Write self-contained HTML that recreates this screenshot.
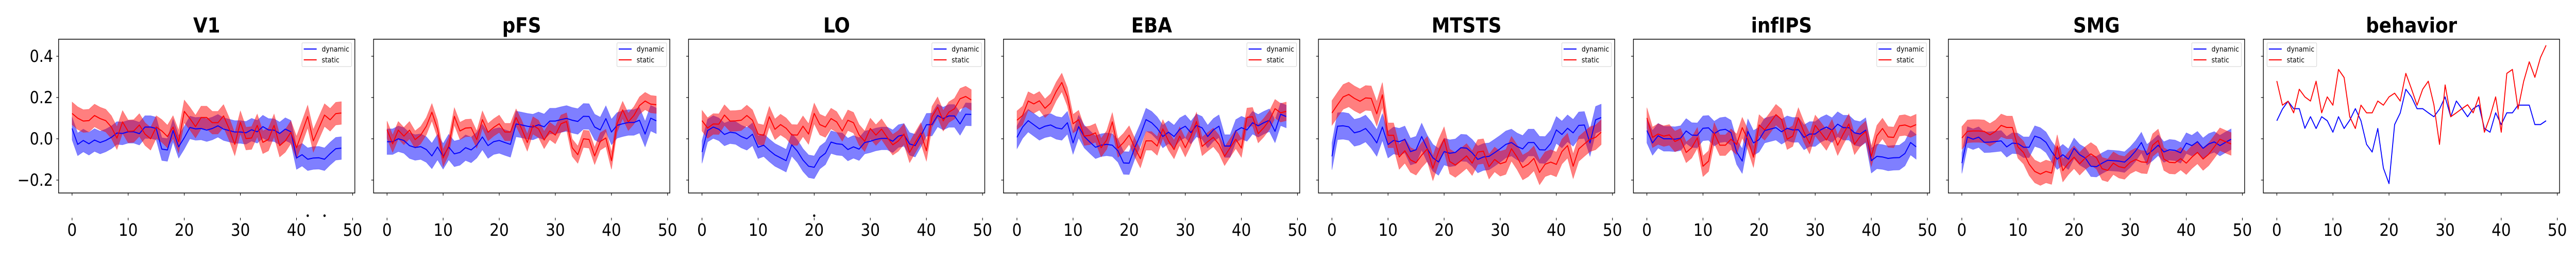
<!DOCTYPE html>
<html><head><meta charset="utf-8">
<style>
html,body{margin:0;padding:0;background:#fff;width:100%;height:100%;overflow:hidden;}
svg{display:block;width:100vw;height:100vh;font-family:"DejaVu Sans","Liberation Sans",sans-serif;}
</style></head>
<body>
<svg id="chart" viewBox="0 0 5600 500" preserveAspectRatio="none" xmlns="http://www.w3.org/2000/svg"></svg>
<script>
const panelTitles = ["V1","pFS","LO","EBA","MTSTS","infIPS","SMG","behavior"];
const yTickValues = [-0.2, 0.0, 0.2, 0.4];
const yTickLabels = ["\u22120.2","0.0","0.2","0.4"];
const xTickValues = [0,10,20,30,40,50];
const xTickLabels = ["0","10","20","30","40","50"];

const v1Dynamic = [0.05,-0.027,-0.008,-0.024,-0.006,-0.018,-0.008,0.007,0.028,0.026,0.034,0.034,0.025,0.057,0.057,0.05,-0.05,-0.054,0.04,-0.039,0.005,0.055,0.048,0.05,0.042,0.05,0.063,0.047,0.04,0.033,0.033,0.029,0.044,0.034,0.059,0.043,0.042,0.026,0.047,0.034,-0.093,-0.077,-0.099,-0.093,-0.092,-0.099,-0.072,-0.048,-0.045];
const v1Static = [0.123,0.1,0.086,0.088,0.113,0.098,0.088,0.057,0.003,0.082,0.036,0.038,0.067,0.023,0,0.057,0.038,0.011,0.057,-0.014,0.133,0.098,0.059,0.103,0.103,0.078,0.078,0.111,0.048,-0.027,0.08,0.001,0.004,0.065,-0.017,-0.003,0.065,-0.033,-0.01,0.032,-0.043,0.032,0.108,-0.01,0.053,0.115,0.092,0.122,0.125];
const pfsDynamic = [-0.014,-0.014,0,-0.008,-0.033,-0.042,-0.038,-0.052,-0.083,-0.04,-0.085,-0.04,-0.073,-0.066,-0.043,-0.054,-0.031,0.009,-0.033,-0.014,-0.008,-0.018,-0.027,0.072,0.067,0.061,0.057,0.068,0.058,0.086,0.086,0.093,0.099,0.09,0.084,0.109,0.108,0.057,0.043,0.098,0.033,0.065,0.073,0.079,0.079,0.09,0.023,0.1,0.087];
const pfsStatic = [0.044,-0.024,0.042,0.013,0.042,-0.004,0.018,0.061,0.129,0.048,-0.093,-0.035,0.109,0.038,0.052,0.054,-0.004,0.093,0.032,0.055,0.073,0.033,0.033,0.103,0.048,-0.018,0.065,0.048,-0.006,0.038,0.018,0.073,0.084,-0.043,-0.077,0,-0.003,-0.083,-0.013,0.004,-0.106,0.073,0.14,0.082,0.113,0.161,0.183,0.168,0.165];
const loDynamic = [-0.064,0.04,0.057,0.046,0.021,0.032,0.028,0.011,0,0.022,-0.041,-0.031,-0.056,-0.078,-0.092,-0.106,-0.029,-0.06,-0.103,-0.133,-0.138,-0.091,-0.07,-0.016,-0.024,-0.027,-0.052,-0.039,-0.05,-0.018,-0.012,-0.003,0.002,0.002,-0.012,0.013,0.019,-0.025,-0.033,0.015,0.068,0.069,0.113,0.098,0.111,0.111,0.072,0.119,0.118];
const loStatic = [0.088,0.052,0.072,0.071,0.115,0.086,0.087,0.09,0.113,0.09,0.023,0.017,0.107,0.046,0.069,0.051,0.019,0.018,0.061,0.023,0.123,0.069,0.057,0.098,0.082,0.038,0.09,0.078,0.019,-0.012,0.05,0.018,0.047,0.007,-0.029,-0.01,0.023,-0.066,-0.018,0.028,-0.058,0.107,0.153,0.087,0.129,0.146,0.194,0.205,0.188];
const ebaDynamic = [0.007,0.057,0.088,0.068,0.048,0.061,0.067,0.053,0.048,0.078,-0.02,0.059,0.011,-0.016,-0.041,-0.031,-0.027,-0.031,-0.058,-0.117,-0.118,-0.043,0.019,0.093,0.078,0.051,0.011,0.032,0.011,0.046,0.061,0.03,0.065,0.053,0.011,0.043,0.061,-0.035,-0.035,0.038,0.054,0.043,0.078,0.063,0.078,0.09,0.036,0.119,0.108];
const ebaStatic = [0.09,0.113,0.183,0.169,0.184,0.148,0.173,0.23,0.273,0.203,0.073,0.093,0.013,0.017,0.029,-0.043,-0.006,0.082,-0.045,-0.018,0.018,-0.043,-0.096,-0.01,-0.01,-0.035,0.048,-0.01,-0.052,0.013,-0.043,0.013,0.084,-0.037,-0.014,0.007,-0.027,-0.085,-0.043,-0.002,-0.045,0.104,0.107,0.025,0.054,0.09,0.146,0.126,0.133];
const mtstsDynamic = [-0.085,0.061,0.063,0.058,0.029,0.036,0.05,0.019,-0.02,0.057,-0.028,-0.008,-0.014,-0.003,-0.062,-0.053,0.011,-0.048,-0.092,-0.112,-0.062,-0.07,-0.066,-0.043,-0.045,-0.068,-0.1,-0.088,-0.085,-0.067,-0.048,-0.027,-0.018,-0.037,-0.049,-0.018,-0.018,-0.053,-0.054,-0.023,0.043,0.021,0.051,0.029,0.065,0.067,-0.02,0.092,0.103];
const mtstsStatic = [0.125,0.165,0.203,0.215,0.196,0.182,0.198,0.196,0.121,0.213,0.017,0.017,-0.088,-0.058,-0.102,-0.116,-0.079,-0.049,-0.143,-0.063,-0.002,-0.11,-0.127,-0.106,-0.083,-0.118,-0.064,-0.06,-0.135,-0.1,-0.121,-0.112,-0.048,-0.089,-0.139,-0.123,-0.095,-0.163,-0.123,-0.113,-0.124,-0.062,-0.033,-0.133,-0.049,-0.025,-0.002,0.007,0.032];
const infipsDynamic = [0.04,-0.02,0.015,0,0,-0.002,0.003,0.038,0.018,0.017,0.051,0.053,0.025,0.042,0.046,0.03,-0.064,-0.108,0.036,-0.02,-0.004,0.04,0.047,0.054,0.034,0.051,0.043,0.044,0.007,0.023,0.023,0.044,0.057,0.042,0.071,0.054,0.054,0.029,0.023,0.042,-0.106,-0.085,-0.088,-0.095,-0.092,-0.091,-0.071,-0.018,-0.039];
const infipsStatic = [0.101,0.007,0.023,0.013,0.019,-0.013,0,-0.066,-0.043,0.005,-0.133,-0.108,0.028,-0.031,-0.031,-0.002,-0.027,0.054,-0.004,-0.089,0.067,0.043,0.079,0.117,0.094,-0.002,0.013,0.101,0.032,-0.023,0.065,0.03,-0.006,0.044,-0.031,0.023,0.072,-0.027,0.011,0.036,-0.085,0.015,0.05,0.009,0.007,0.063,0.067,0.057,0.069];
const smgDynamic = [-0.118,0.009,-0.002,0.008,-0.017,-0.016,-0.013,-0.01,-0.039,-0.021,-0.023,-0.041,-0.041,0.013,0.004,-0.017,-0.062,-0.099,-0.077,-0.099,-0.046,-0.077,-0.093,-0.133,-0.135,-0.118,-0.104,-0.106,-0.108,-0.113,-0.089,-0.058,-0.018,-0.077,-0.056,-0.031,-0.064,-0.053,-0.056,-0.068,-0.021,-0.033,-0.014,-0.046,-0.025,-0.015,-0.033,-0.017,-0.002];
const smgStatic = [0.004,0.036,0.038,0.038,0.036,0.019,0.036,0.065,0.055,0.055,-0.039,-0.067,-0.123,-0.158,-0.171,-0.158,-0.166,-0.035,-0.154,-0.118,-0.089,-0.121,-0.093,-0.073,-0.092,-0.145,-0.153,-0.118,-0.135,-0.141,-0.114,-0.1,-0.112,-0.114,-0.031,-0.008,-0.098,-0.114,-0.116,-0.096,-0.118,-0.089,-0.066,-0.098,-0.075,-0.039,-0.002,-0.014,-0.025];
const behaviorDynamic = [0.0875,0.144,0.182,0.146,0.146,0.051,0.107,0.05,0.107,0.0875,0.032,0.107,0.05,0.09,0.146,0.0875,-0.027,-0.064,0.05,-0.142,-0.217,0.069,0.125,0.24,0.203,0.146,0.146,0.126,0.107,0.144,0.203,0.107,0.183,0.146,0.107,0.146,0.163,0.05,0.032,0.126,0.069,0.126,0.126,0.163,0.163,0.163,0.069,0.069,0.0875];
const behaviorStatic = [0.28,0.163,0.182,0.126,0.24,0.203,0.183,0.279,0.126,0.203,0.163,0.336,0.297,0.107,0.05,0.163,0.126,0.126,0.183,0.163,0.203,0.221,0.183,0.317,0.242,0.163,0.24,0.279,0.165,-0.027,0.261,0.107,0.126,0.146,0.165,0.126,0.203,0.032,0.107,0.203,0.032,0.317,0.336,0.144,0.278,0.373,0.298,0.394,0.453];

const dynamicSeries = [v1Dynamic,pfsDynamic,loDynamic,ebaDynamic,mtstsDynamic,infipsDynamic,smgDynamic,behaviorDynamic];
const staticSeries = [v1Static,pfsStatic,loStatic,ebaStatic,mtstsStatic,infipsStatic,smgStatic,behaviorStatic];
const dynamicErr = [0.055,0.062,0.055,0.055,0.065,0.06,0.05,0];
const staticErr = [0.055,0.042,0.05,0.045,0.06,0.05,0.055,0];
const sigPanels = [0,0,2];
const sigTimes = [42,45,20];

const NS = "http://www.w3.org/2000/svg";
const svg = document.getElementById("chart");
function mk(tag, attrs, parent){
  const e = document.createElementNS(NS, tag);
  for (const k in attrs) e.setAttribute(k, attrs[k]);
  (parent||svg).appendChild(e);
  return e;
}
const PANEL_LEFT0 = 127.4, PANEL_STEP = 684.7, PANEL_W = 644;
const TOP = 76, BOTTOM = 374;
const XMIN = -2.4, XMAX = 50.4, YMIN = -0.2625, YMAX = 0.4825;
function yScale(v){ return BOTTOM - (v - YMIN) / (YMAX - YMIN) * (BOTTOM - TOP); }
function xScaleFor(p){ const L = PANEL_LEFT0 + p*PANEL_STEP; return x => L + (x - XMIN) / (XMAX - XMIN) * PANEL_W; }

for (let p = 0; p < panelTitles.length; p++){
  const L = PANEL_LEFT0 + p*PANEL_STEP;
  const xs = xScaleFor(p);
  const g = mk("g", {});
  
  

  const title = mk("text", {x: L + PANEL_W/2, y: 63, "text-anchor":"middle", "font-size":"40", "font-weight":"bold", fill:"#000"}, g);
  title.textContent = panelTitles[p];
  
  

  const series = [[dynamicSeries[p], dynamicErr[p], "#0000ff", "dynamic"], [staticSeries[p], staticErr[p], "#ff0000", "static"]];
  for (const [vals, err, col, nm] of series){
    if (err > 0){
      let up = [], dn = [];
      vals.forEach((v,i) => { up.push(xs(i).toFixed(1)+","+yScale(v+err).toFixed(1)); dn.push(xs(i).toFixed(1)+","+yScale(v-err).toFixed(1)); });
      const band = mk("polygon", {points: up.concat(dn.reverse()).join(" "), fill: col, "fill-opacity":"0.5", stroke: col, "stroke-opacity":"0.3", "stroke-width":"1"}, g);
      
      
    }
  }
  for (const [vals, err, col, nm] of series){
    const pts = vals.map((v,i) => xs(i).toFixed(1)+","+yScale(v).toFixed(1)).join(" ");
    const line = mk("polyline", {points: pts, fill:"none", stroke: col, "stroke-width":"2", "stroke-linejoin":"round"}, g);
    
    
  }

  const frame = mk("rect", {x: L, y: TOP, width: PANEL_W, height: BOTTOM-TOP, fill:"none", stroke:"#000", "stroke-width":"1.5"}, g);
  
  

  yTickValues.forEach((v, i) => {
    const y = yScale(v);
    const t = mk("line", {x1: L-5, x2: L, y1: y, y2: y, stroke:"#000", "stroke-width":"1.2"}, g);
    
    
    if (p === 0){
      const lb = mk("text", {x: L-12, y: y+11, "text-anchor":"end", "font-size":"32", fill:"#000"}, g);
      lb.textContent = yTickLabels[i];
      
      
    }
  });
  xTickValues.forEach((v, i) => {
    const x = xs(v);
    const t = mk("line", {x1: x, x2: x, y1: BOTTOM, y2: BOTTOM+5, stroke:"#000", "stroke-width":"1.2"}, g);
    
    
    const t2 = mk("line", {x1: x, x2: x, y1: 422, y2: 427, stroke:"#000", "stroke-width":"1.2"}, g);
    
    
    const lb = mk("text", {x: x, y: 457, "text-anchor":"middle", "font-size":"33", fill:"#000"}, g);
    lb.textContent = xTickLabels[i];
    
    
  });

  const lx = (p === 7) ? L + 8 : L + PANEL_W - 115;
  const lg = mk("g", {}, g);
  
  
  mk("rect", {x: lx, y: 83, width: 108, height: 46, rx: 2, fill:"#fff", "fill-opacity":"0.8", stroke:"#d0d0d0", "stroke-width":"1"}, lg);
  [["dynamic","#0000ff",95],["static","#ff0000",116]].forEach(([nm,col,y]) => {
    const ln = mk("line", {x1: lx+4, x2: lx+32, y1: y, y2: y, stroke: col, "stroke-width":"2"}, lg);
    
    
    const tx = mk("text", {x: lx+43, y: y+5, "font-size":"14", fill:"#000"}, lg);
    tx.textContent = nm;
    
    
  });
}

sigTimes.forEach((t, i) => {
  const xs = xScaleFor(sigPanels[i]);
  const d = mk("circle", {cx: xs(t), cy: 418, r: 2.5, fill:"#000"});
  
  
});
</script>
</body></html>
